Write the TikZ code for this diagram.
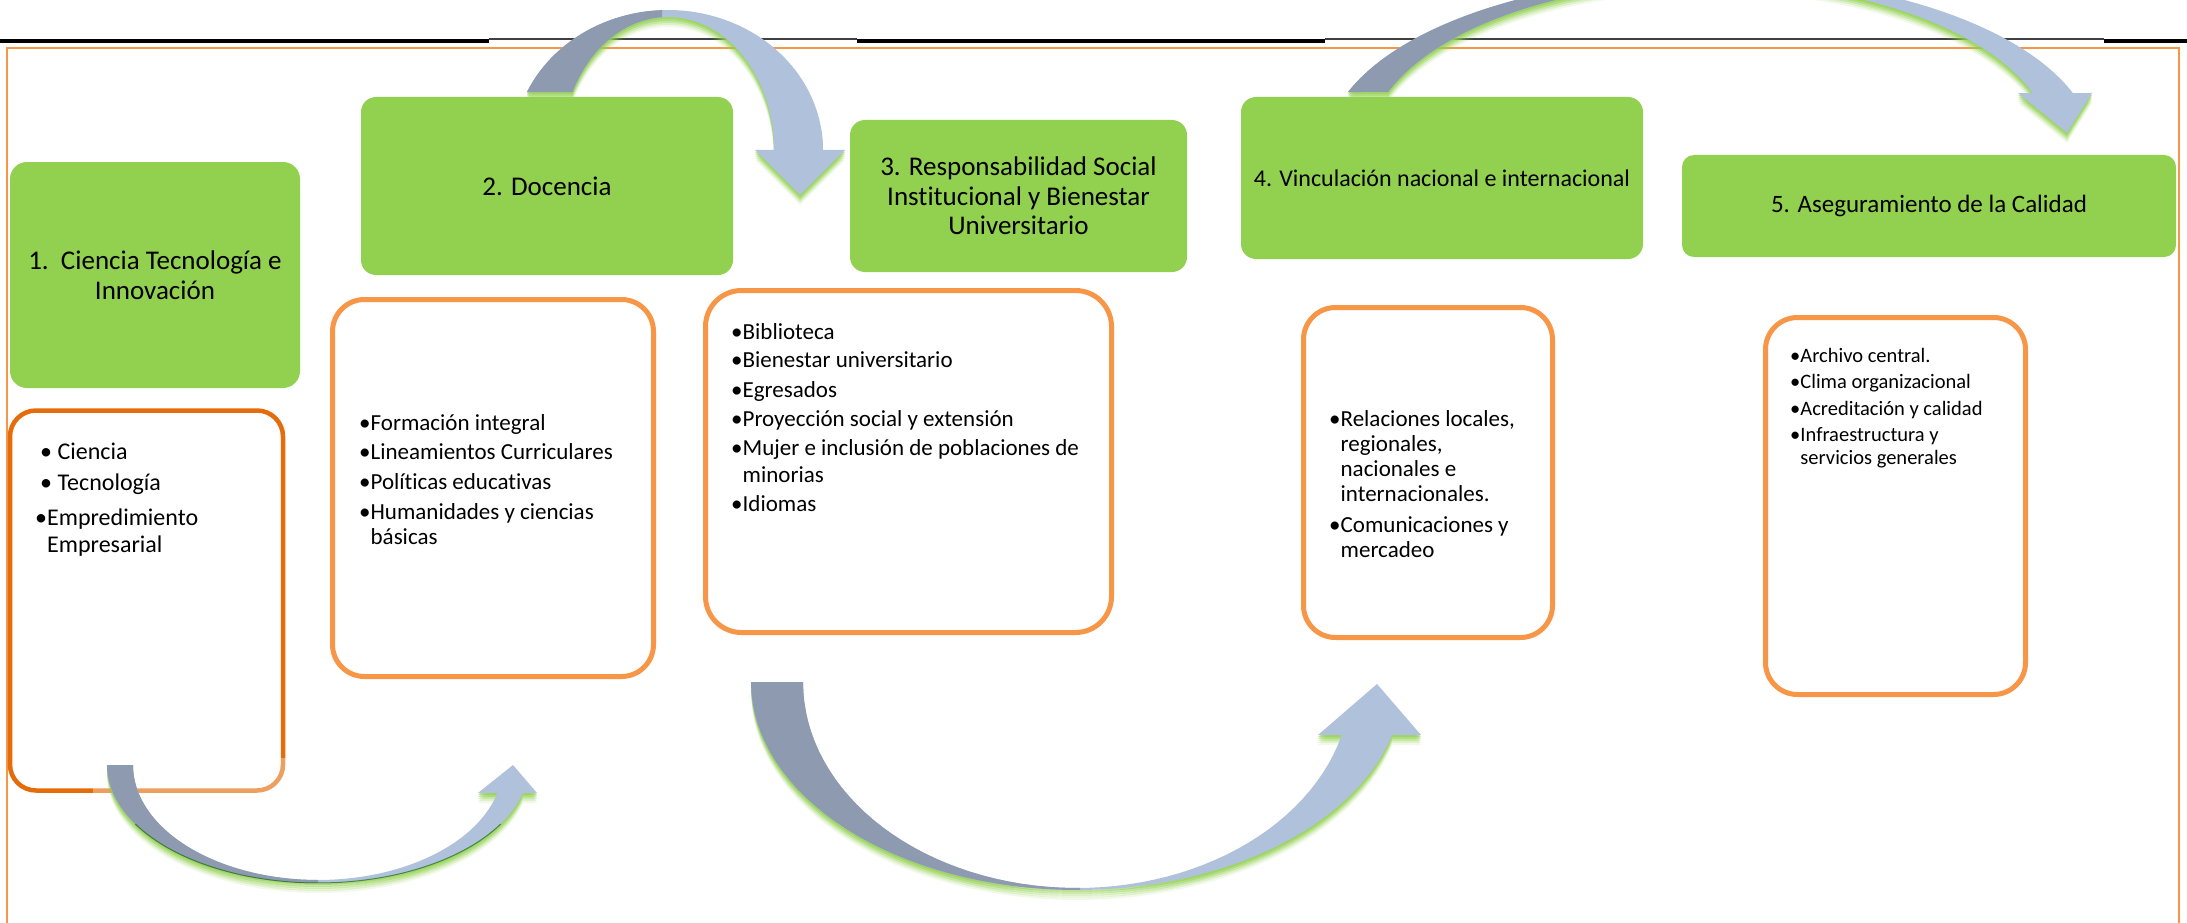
\documentclass[tikz,border=0pt]{standalone}
\usepackage{fontspec}
\setmainfont{Carlito}[Ligatures=NoCommon]
\begin{document}
\begin{tikzpicture}[x=1pt,y=-1pt,samples=60,
  titlebox/.style={fill=boxgreen,rounded corners=17pt,inner sep=0pt,align=center},
  listbox/.style={draw=boxorange,line width=5pt,fill=white,rounded corners=32pt,inner sep=0pt},
  listtext/.style={anchor=base west,inner sep=0pt}]
% \clip (0,0) rectangle (2187,923);
\useasboundingbox (0,0) rectangle (2187,923);
\clip (0,0) rectangle (2187,923);

% Changing colors
\definecolor{boxgreen}{RGB}{146,208,80}%
\definecolor{boxorange}{RGB}{247,150,70}%
\definecolor{darkorange}{RGB}{228,108,10}%
\definecolor{arrowdark}{RGB}{141,154,176}%
\definecolor{arrowlight}{RGB}{176,193,220}%

% Drawing header rule
\draw [line width=3.5pt] (0,41) -- (489,41);%
\draw [line width=1.8pt,black!75] (489,39) -- (857,39);%
\draw [line width=3.5pt] (857,41) -- (1325,41);%
\draw [line width=1.8pt,black!75] (1325,39) -- (2104,39);%
\draw [line width=3.5pt] (2104,41) -- (2187,41);%

% Drawing frame
\draw [boxorange,line width=1.5pt] (7,48) rectangle (2179,940);%

% Drawing green boxes
\node [titlebox,minimum width=290pt,minimum height=226pt,font=\fontsize{27}{30}\selectfont] (g1) at (155,275) {1.\ \ Ciencia Tecnología e\\Innovación};
\node [titlebox,minimum width=372pt,minimum height=178pt,rounded corners=15pt,font=\fontsize{27}{30}\selectfont] (g2) at (547,186) {2. Docencia};
\node [titlebox,minimum width=337pt,minimum height=152pt,rounded corners=15pt,font=\fontsize{27}{29.5}\selectfont] (g3) at (1018.5,196) {3. Responsabilidad Social\\Institucional y Bienestar\\Universitario};
\node [titlebox,minimum width=402pt,minimum height=162pt,rounded corners=15pt,font=\fontsize{24}{28}\selectfont] (g4) at (1442,178) {4. Vinculación nacional e internacional};
\node [titlebox,minimum width=494pt,minimum height=102pt,rounded corners=12pt,font=\fontsize{25}{28}\selectfont] (g5) at (1929,206) {5. Aseguramiento de la Calidad};

% Drawing orange boxes
\node [listbox,draw=darkorange,line width=4.5pt,rounded corners=26pt,minimum width=273pt,minimum height=380pt] (o1) at (146.5,600.5) {};
\node [listbox,minimum width=321pt,minimum height=377pt] (o2) at (493,488) {};
\node [listbox,minimum width=406pt,minimum height=342pt,rounded corners=36pt] (o3) at (908.5,461.5) {};
\node [listbox,minimum width=249pt,minimum height=330pt] (o4) at (1428,472.5) {};
\node [listbox,minimum width=260pt,minimum height=377pt] (o5) at (1895.5,506) {};

% Drawing lists
\node [listtext] (l1) at (35,459) {\fontsize{24}{27}\selectfont
  \begin{tabular}[t]{@{}l@{}}
  \hspace{5pt}• Ciencia\\[4pt]
  \hspace{5pt}• Tecnología\\[8pt]
  •Empredimiento\\
  \hspace{12pt}Empresarial
  \end{tabular}};
\node [listtext] (l2) at (359,430) {\fontsize{23}{25}\selectfont
  \begin{tabular}[t]{@{}l@{}}
  •Formación integral\\[4.5pt]
  •Lineamientos Curriculares\\[4.5pt]
  •Políticas educativas\\[5pt]
  •Humanidades y ciencias\\
  \phantom{•}básicas
  \end{tabular}};
\node [listtext] (l3) at (731,339) {\fontsize{23}{27}\selectfont
  \begin{tabular}[t]{@{}l@{}}
  •Biblioteca\\[1.5pt]
  •Bienestar universitario\\[2.5pt]
  •Egresados\\[2.5pt]
  •Proyección social y extensión\\[2pt]
  •Mujer e inclusión de poblaciones de\\
  \phantom{•}minorias\\[1.5pt]
  •Idiomas
  \end{tabular}};
\node [listtext] (l4) at (1329,426.5) {\fontsize{23}{25}\selectfont
  \begin{tabular}[t]{@{}l@{}}
  •Relaciones locales,\\
  \phantom{•}regionales,\\
  \phantom{•}nacionales e\\
  \phantom{•}internacionales.\\[6pt]
  •Comunicaciones y\\
  \phantom{•}mercadeo
  \end{tabular}};
\node [listtext] (l5) at (1790,362) {\fontsize{20.5}{23}\selectfont
  \begin{tabular}[t]{@{}l@{}}
  •Archivo central.\\[3.5pt]
  •Clima organizacional\\[3.5pt]
  •Acreditación y calidad\\[3.5pt]
  •Infraestructura y\\
  \phantom{•}servicios generales
  \end{tabular}};

% Drawing curved arrows
\def\arrA{plot[domain=204.47:360] ({668+155*cos(\x)},{150+140*sin(\x)}) -- (845,150) -- (800,195) -- (755,150) -- plot[domain=360:205.85] ({668+106*cos(\x)},{150+133*sin(\x)}) -- cycle}
\def\arrB{plot[domain=199.47:340.88] ({1710+384*cos(\x)},{150+174*sin(\x)}) -- (2092,93) -- (2067,133) -- (2018,93) -- plot[domain=340.17:200.2] ({1710+343*cos(\x)},{150+168*sin(\x)}) -- cycle}
\def\arrC{plot[domain=180:13.73] ({318+211*cos(\x)},{765+118*sin(\x)}) -- (537,793) -- (513,765) -- (478,793) -- plot[domain=14.09:180] ({318+185*cos(\x)},{765+115*sin(\x)}) -- cycle}
\def\arrD{plot[domain=180:14.76] ({1077+326*cos(\x)},{682+208*sin(\x)}) -- (1421,735) -- (1377,684) -- (1318,735) -- plot[domain=14.91:180] ({1077+274*cos(\x)},{682+206*sin(\x)}) -- cycle}

\fill [white,opacity=0.35] (93,758) rectangle (545,905);%
\foreach \s/\o in {10/0.12,8/0.2,6/0.3,4/0.45,2/0.6} {
  \fill [boxgreen,opacity=\o,shift={(0,\s)}] \arrA;
  \fill [boxgreen,opacity=\o,shift={(0,\s)}] \arrB;
  \fill [boxgreen,opacity=\o,shift={(0,\s)}] \arrC;
  \fill [boxgreen,opacity=\o,shift={(0,\s)}] \arrD;
}
\fill [arrowlight] \arrA;
\fill [arrowlight] \arrB;
\fill [arrowlight] \arrC;
\fill [arrowlight] \arrD;
\begin{scope}
  \clip (0,0) rectangle (662,300);
  \fill [arrowdark] \arrA;
\end{scope}
\begin{scope}
  \clip (1200,0) rectangle (1590,300);
  \fill [arrowdark] \arrB;
\end{scope}
\begin{scope}
  \clip (0,600) rectangle (318,923);
  \fill [arrowdark] \arrC;
\end{scope}
\begin{scope}
  \clip (600,600) rectangle (1080,923);
  \fill [arrowdark] \arrD;
\end{scope}
\draw [green!35!black,opacity=0.6,line width=1pt] plot[domain=150:30] ({318+211*cos(\x)},{765+118*sin(\x)});%
\end{tikzpicture}
\end{document}
